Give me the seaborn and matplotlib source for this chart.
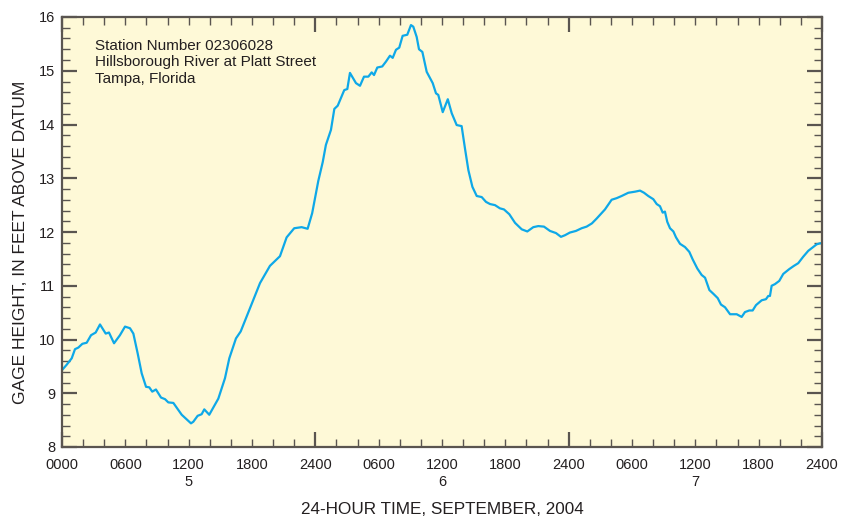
import numpy as np
import pandas as pd
import seaborn as sns
import matplotlib.pyplot as plt
from matplotlib.ticker import MultipleLocator

# Gage readings, hours since 0000 September 5, 2004
hours = [0.0, 0.44, 0.92, 1.23, 1.55, 1.93, 2.34, 2.75, 3.19, 3.6, 4.14, 4.45, 4.93, 5.49, 5.97,
         6.44, 6.76, 7.17, 7.55, 7.96, 8.27, 8.55, 8.9, 9.38, 9.76, 10.07, 10.55, 11.34, 12.22,
         12.44, 12.85, 13.23, 13.48, 13.95, 14.81, 15.44, 15.85, 16.48, 16.93, 17.5, 18.12, 18.76,
         19.7, 20.65, 21.28, 22.0, 22.7, 23.27, 23.7, 24.28, 24.7, 25.0, 25.48, 25.8, 26.12, 26.74,
         27.03, 27.28, 27.85, 28.23, 28.61, 29.02, 29.34, 29.56, 29.87, 30.34, 30.69, 31.07, 31.33,
         31.64, 31.95, 32.27, 32.71, 33.06, 33.28, 33.6, 33.82, 34.14, 34.55, 35.12, 35.43, 35.65,
         36.07, 36.55, 36.92, 37.39, 37.86, 38.18, 38.5, 38.88, 39.29, 39.76, 40.17, 40.55, 41.02,
         41.49, 41.87, 42.38, 42.92, 43.55, 44.08, 44.65, 45.12, 45.66, 46.23, 46.8, 47.27, 47.65,
         48.12, 48.69, 49.23, 49.7, 50.2, 50.65, 51.44, 52.07, 52.55, 53.02, 53.65, 54.28, 54.76,
         55.14, 55.54, 56.02, 56.34, 56.65, 56.91, 57.12, 57.34, 57.6, 57.92, 58.17, 58.55, 59.02,
         59.43, 59.75, 60.19, 60.6, 60.92, 61.33, 61.71, 62.12, 62.43, 62.81, 63.29, 63.92, 64.39,
         64.7, 65.11, 65.43, 65.75, 66.29, 66.69, 66.91, 67.07, 67.23, 67.54, 67.95, 68.33, 68.9,
         69.34, 69.75, 70.22, 70.7, 71.17, 71.49, 71.81, 72.0]
gage_height = [9.43, 9.53, 9.65, 9.82, 9.85, 9.92, 9.94, 10.08, 10.13, 10.28, 10.11, 10.13, 9.93,
               10.08, 10.24, 10.21, 10.11, 9.74, 9.37, 9.12, 9.11, 9.03, 9.07, 8.92, 8.89, 8.83,
               8.82, 8.6, 8.44, 8.47, 8.58, 8.61, 8.70, 8.6, 8.9, 9.28, 9.65, 10.02, 10.15, 10.43,
               10.74, 11.05, 11.37, 11.55, 11.90, 12.07, 12.09, 12.06, 12.35, 12.95, 13.30, 13.62,
               13.90, 14.29, 14.35, 14.64, 14.66, 14.96, 14.77, 14.72, 14.89, 14.89, 14.97, 14.92,
               15.06, 15.08, 15.17, 15.28, 15.24, 15.39, 15.43, 15.65, 15.67, 15.85, 15.82, 15.63,
               15.40, 15.35, 14.98, 14.77, 14.58, 14.55, 14.23, 14.47, 14.21, 13.99, 13.97, 13.55,
               13.15, 12.84, 12.67, 12.65, 12.56, 12.52, 12.50, 12.44, 12.42, 12.33, 12.17, 12.05,
               12.01, 12.09, 12.11, 12.10, 12.02, 11.98, 11.91, 11.94, 11.99, 12.02, 12.07, 12.10,
               12.16, 12.25, 12.42, 12.60, 12.63, 12.67, 12.73, 12.75, 12.77, 12.73, 12.67, 12.61,
               12.52, 12.48, 12.36, 12.38, 12.19, 12.07, 12.01, 11.90, 11.78, 11.72, 11.63, 11.49,
               11.32, 11.20, 11.15, 10.92, 10.85, 10.77, 10.65, 10.60, 10.47, 10.47, 10.42, 10.51,
               10.54, 10.54, 10.64, 10.73, 10.75, 10.81, 10.81, 11.0, 11.03, 11.09, 11.22, 11.31,
               11.37, 11.42, 11.54, 11.65, 11.72, 11.77, 11.79, 11.79]

tick_hours = [0, 6, 12, 18, 24, 30, 36, 42, 48, 54, 60, 66, 72]
tick_labels = ["0000", "0600", "1200\n5", "1800", "2400", "0600", "1200\n6", "1800",
               "2400", "0600", "1200\n7", "1800", "2400"]
station_text = "Station Number 02306028\nHillsborough River at Platt Street\nTampa, Florida"

df = pd.DataFrame({"hours": hours, "gage": gage_height})

sns.set_theme(style="ticks")
plt.rcParams['font.family'] = ['Liberation Sans', 'DejaVu Sans']
ink = "#231f20"
frame = "#5a5550"

fig = plt.figure(figsize=(8.51, 5.17), dpi=100)
ax = fig.add_axes([62 / 851, 1 - 447 / 517, 760 / 851, 430 / 517])
ax.set_facecolor("#fef9d7")

sns.lineplot(data=df, x="hours", y="gage", ax=ax, color="#0ea8e8", linewidth=1.6)

ax.set_xlim(0, 72)
ax.set_ylim(8, 16)
ax.set_xticks(tick_hours)
ax.set_xticklabels(tick_labels, linespacing=1.3)
ax.xaxis.set_minor_locator(MultipleLocator(2))
ax.yaxis.set_major_locator(MultipleLocator(1))
ax.yaxis.set_minor_locator(MultipleLocator(0.2))

ax.tick_params(which="both", direction="in", top=True, right=True, colors=frame,
               labelcolor=ink, labelsize=10.5, width=1.0)
ax.tick_params(axis="x", which="major", length=5.5, pad=8)
ax.tick_params(axis="x", which="minor", length=5.5)
ax.tick_params(axis="y", which="major", length=11, width=1.6, pad=5)
ax.tick_params(axis="y", which="minor", length=5.5)
# longer ticks at day boundaries
for tick, h in zip(ax.xaxis.get_major_ticks(), tick_hours):
    if h % 24 == 0:
        tick.tick1line.set_markersize(11)
        tick.tick2line.set_markersize(11)
        tick.tick1line.set_markeredgewidth(1.6)
        tick.tick2line.set_markeredgewidth(1.6)

for sp in ax.spines.values():
    sp.set_color(frame)
    sp.set_linewidth(1.6)

ax.set_xlabel("24-HOUR TIME, SEPTEMBER, 2004", fontsize=12.3, color=ink, labelpad=9)
ax.set_ylabel("GAGE HEIGHT, IN FEET ABOVE DATUM", fontsize=12.5, color=ink)
ax.yaxis.set_label_coords(-0.045, 0.477)

ax.text(0.043, 0.950, station_text, transform=ax.transAxes, ha="left", va="top",
        fontsize=11, color=ink, linespacing=1.27)

plt.savefig("out.png", dpi=100)
